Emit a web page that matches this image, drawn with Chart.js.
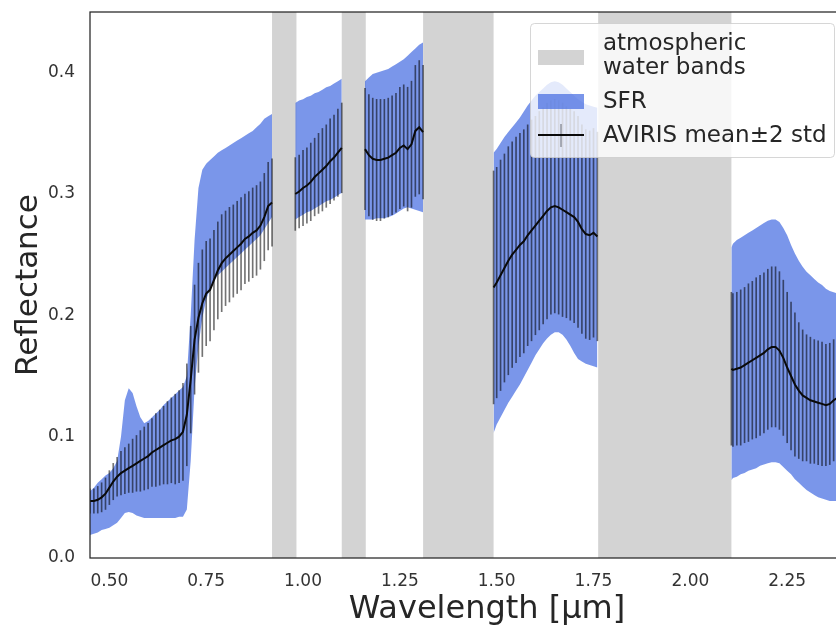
<!DOCTYPE html>
<html>
<head>
<meta charset="utf-8">
<title>SFR vs AVIRIS reflectance</title>
<script src="https://cdn.jsdelivr.net/npm/chart.js@4.4.1/dist/chart.umd.min.js"></script>
<style>
  html, body { margin: 0; padding: 0; background: #fff; overflow: hidden; }
  canvas { display: block; }
</style>
</head>
<body>
<canvas id="reflectanceChart" width="900" height="627"></canvas>
<script>
// wavelength grid in µm (null rows sit inside the water bands to break the curves)
const wavelength = [
  0.45, 0.46, 0.47, 0.48, 0.49, 0.50, 0.51, 0.52, 0.53, 0.54, 0.55, 0.56, 0.57, 0.58, 0.59, 0.60,
  0.61, 0.62, 0.63, 0.64, 0.65, 0.66, 0.67, 0.68, 0.69, 0.70, 0.71, 0.72, 0.73, 0.74, 0.75, 0.76,
  0.77, 0.78, 0.79, 0.80, 0.81, 0.82, 0.83, 0.84, 0.85, 0.86, 0.87, 0.88, 0.89, 0.90, 0.91, 0.92,
  0.95,
  0.98, 0.99, 1.00, 1.01, 1.02, 1.03, 1.04, 1.05, 1.06, 1.07, 1.08, 1.09, 1.10,
  1.13,
  1.16, 1.17, 1.18, 1.19, 1.20, 1.21, 1.22, 1.23, 1.24, 1.25, 1.26, 1.27, 1.28, 1.29, 1.30, 1.31,
  1.40,
  1.492, 1.50, 1.51, 1.52, 1.53, 1.54, 1.55, 1.56, 1.57, 1.58, 1.59, 1.60, 1.61, 1.62,
  1.63, 1.64, 1.65, 1.66, 1.67, 1.68, 1.69, 1.70, 1.71, 1.72, 1.73, 1.74, 1.75, 1.76,
  1.93,
  2.106, 2.11, 2.12, 2.13, 2.14, 2.15, 2.16, 2.17, 2.18, 2.19, 2.20, 2.21, 2.22, 2.23, 2.24, 2.25,
  2.26, 2.27, 2.28, 2.29, 2.30, 2.31, 2.32, 2.33, 2.34, 2.35, 2.36, 2.37, 2.38, 2.39, 2.40,
];

// AVIRIS mean reflectance
const aviriMean = [
  0.047, 0.047, 0.048, 0.050, 0.053, 0.058, 0.063, 0.067, 0.070, 0.072, 0.074, 0.076, 0.078, 0.080, 0.082, 0.084,
  0.087, 0.089, 0.091, 0.093, 0.095, 0.097, 0.098, 0.100, 0.104, 0.118, 0.147, 0.180, 0.198, 0.210, 0.218, 0.221,
  0.229, 0.237, 0.243, 0.247, 0.250, 0.253, 0.256, 0.259, 0.263, 0.265, 0.268, 0.270, 0.274, 0.281, 0.290, 0.293,
  null,
  0.300, 0.302, 0.305, 0.307, 0.310, 0.314, 0.317, 0.320, 0.323, 0.327, 0.330, 0.334, 0.338,
  null,
  0.337, 0.332, 0.329, 0.328, 0.328, 0.329, 0.330, 0.332, 0.334, 0.338, 0.340, 0.337, 0.341, 0.352, 0.355, 0.351,
  null,
  0.223, 0.227, 0.233, 0.239, 0.245, 0.250, 0.254, 0.258, 0.261, 0.266, 0.270, 0.274, 0.278, 0.282,
  0.286, 0.289, 0.290, 0.289, 0.287, 0.285, 0.283, 0.281, 0.277, 0.271, 0.267, 0.266, 0.268, 0.265,
  null,
  0.156, 0.155, 0.156, 0.157, 0.159, 0.161, 0.163, 0.165, 0.167, 0.169, 0.172, 0.174, 0.174, 0.171, 0.165, 0.157,
  0.150, 0.143, 0.138, 0.134, 0.132, 0.130, 0.129, 0.128, 0.127, 0.126, 0.127, 0.130, 0.132, 0.132, 0.131,
];

// AVIRIS 2 std (half length of each error bar)
const aviriTwoStd = [
  0.010, 0.010, 0.011, 0.012, 0.013, 0.014, 0.015, 0.016, 0.018, 0.019, 0.020, 0.022, 0.023, 0.025, 0.026, 0.027,
  0.028, 0.030, 0.031, 0.032, 0.034, 0.035, 0.037, 0.038, 0.040, 0.042, 0.044, 0.045, 0.045, 0.044, 0.043, 0.042,
  0.041, 0.040, 0.040, 0.039, 0.039, 0.038, 0.038, 0.038, 0.037, 0.037, 0.037, 0.037, 0.036, 0.036, 0.036, 0.036,
  null,
  0.030, 0.030, 0.031, 0.031, 0.032, 0.032, 0.033, 0.034, 0.034, 0.035, 0.035, 0.036, 0.037,
  null,
  0.050, 0.050, 0.050, 0.050, 0.050, 0.049, 0.049, 0.049, 0.049, 0.050, 0.050, 0.051, 0.052, 0.054, 0.055, 0.055,
  null,
  0.096, 0.095, 0.095, 0.094, 0.094, 0.093, 0.093, 0.092, 0.092, 0.091, 0.091, 0.090, 0.090, 0.089,
  0.089, 0.088, 0.088, 0.088, 0.088, 0.087, 0.087, 0.087, 0.087, 0.086, 0.086, 0.086, 0.086, 0.086,
  null,
  0.063, 0.063, 0.063, 0.064, 0.064, 0.065, 0.065, 0.066, 0.066, 0.066, 0.066, 0.066, 0.066, 0.065, 0.064, 0.062,
  0.061, 0.059, 0.056, 0.054, 0.052, 0.052, 0.051, 0.051, 0.051, 0.050, 0.050, 0.050, 0.050, 0.050, 0.050,
];

// SFR envelope, upper edge
const sfrHigh = [
  0.055, 0.058, 0.062, 0.065, 0.068, 0.070, 0.074, 0.080, 0.100, 0.130, 0.140, 0.136, 0.125, 0.116, 0.111, 0.113,
  0.116, 0.119, 0.122, 0.126, 0.129, 0.132, 0.135, 0.138, 0.141, 0.150, 0.200, 0.262, 0.305, 0.320, 0.325, 0.328,
  0.331, 0.334, 0.336, 0.338, 0.340, 0.342, 0.344, 0.346, 0.348, 0.350, 0.352, 0.355, 0.358, 0.362, 0.364, 0.366,
  null,
  0.375, 0.377, 0.378, 0.380, 0.381, 0.383, 0.384, 0.386, 0.388, 0.389, 0.391, 0.393, 0.395,
  null,
  0.393, 0.396, 0.399, 0.400, 0.401, 0.402, 0.403, 0.405, 0.407, 0.409, 0.411, 0.414, 0.417, 0.420, 0.423, 0.425,
  null,
  0.334, 0.337, 0.342, 0.347, 0.351, 0.355, 0.359, 0.363, 0.368, 0.373, 0.377, 0.381, 0.384, 0.387,
  0.390, 0.392, 0.393, 0.392, 0.390, 0.387, 0.384, 0.381, 0.378, 0.376, 0.374, 0.373, 0.372, 0.371,
  null,
  0.256, 0.259, 0.262, 0.264, 0.266, 0.268, 0.270, 0.272, 0.274, 0.276, 0.278, 0.279, 0.279, 0.277, 0.272, 0.266,
  0.258, 0.251, 0.245, 0.240, 0.236, 0.233, 0.230, 0.227, 0.225, 0.222, 0.220, 0.219, 0.218, 0.217, 0.216,
];

// SFR envelope, lower edge
const sfrLow = [
  0.019, 0.020, 0.021, 0.023, 0.024, 0.025, 0.027, 0.029, 0.033, 0.037, 0.038, 0.037, 0.035, 0.034, 0.033, 0.033,
  0.033, 0.033, 0.033, 0.033, 0.033, 0.033, 0.033, 0.034, 0.034, 0.040, 0.080, 0.140, 0.175, 0.198, 0.213, 0.222,
  0.228, 0.233, 0.236, 0.239, 0.242, 0.245, 0.248, 0.251, 0.254, 0.257, 0.260, 0.263, 0.266, 0.271, 0.276, 0.281,
  null,
  0.279, 0.281, 0.283, 0.285, 0.286, 0.288, 0.290, 0.292, 0.294, 0.295, 0.297, 0.299, 0.301,
  null,
  0.279, 0.279, 0.279, 0.280, 0.280, 0.280, 0.281, 0.282, 0.284, 0.286, 0.288, 0.289, 0.288, 0.287, 0.286, 0.285,
  null,
  0.103, 0.110, 0.116, 0.122, 0.128, 0.133, 0.138, 0.143, 0.149, 0.155, 0.161, 0.167, 0.172, 0.177,
  0.181, 0.184, 0.186, 0.186, 0.184, 0.180, 0.175, 0.169, 0.164, 0.162, 0.160, 0.159, 0.158, 0.157,
  null,
  0.064, 0.066, 0.067, 0.069, 0.070, 0.072, 0.073, 0.074, 0.076, 0.077, 0.078, 0.079, 0.079, 0.078, 0.075, 0.072,
  0.069, 0.065, 0.062, 0.059, 0.056, 0.054, 0.052, 0.050, 0.049, 0.048, 0.047, 0.047, 0.047, 0.047, 0.047,
];

// atmospheric water bands (µm)
const bandStart = [0.92, 1.10, 1.31, 1.762];
const bandEnd = [0.983, 1.162, 1.492, 2.106];

const xTickValues = [0.5, 0.75, 1.0, 1.25, 1.5, 1.75, 2.0, 2.25];
const yTickValues = [0.0, 0.1, 0.2, 0.3, 0.4];

const legendLabels = [["atmospheric", "water bands"], "SFR", "AVIRIS mean\u00b12 std"];

const BAND_COLOR = "#d3d3d3";
const SFR_COLOR = "rgba(65, 105, 225, 0.7)";
const INK = "#262626";

Chart.defaults.font.family = "'DejaVu Sans', sans-serif";
Chart.defaults.color = INK;

const waterBandsPlugin = {
  id: "waterBands",
  beforeDatasetsDraw(chart) {
    const { ctx, chartArea, scales } = chart;
    ctx.save();
    ctx.fillStyle = BAND_COLOR;
    bandStart.forEach((start, i) => {
      const x0 = scales.x.getPixelForValue(start);
      const x1 = scales.x.getPixelForValue(bandEnd[i]);
      ctx.fillRect(x0, chartArea.top, x1 - x0, chartArea.bottom - chartArea.top);
    });
    ctx.restore();
  },
};

const frameAndLegendPlugin = {
  id: "frameAndLegend",
  afterDraw(chart) {
    const { ctx, chartArea } = chart;
    ctx.save();

    // axes frame
    ctx.strokeStyle = INK;
    ctx.lineWidth = 1.25;
    ctx.strokeRect(chartArea.left, chartArea.top, chartArea.right - chartArea.left, chartArea.bottom - chartArea.top);

    // legend box
    ctx.beginPath();
    ctx.roundRect(530.5, 23.5, 304, 134, 4);
    ctx.fillStyle = "rgba(255, 255, 255, 0.8)";
    ctx.fill();
    ctx.strokeStyle = "rgba(204, 204, 204, 0.8)";
    ctx.lineWidth = 1;
    ctx.stroke();

    // handles
    ctx.fillStyle = BAND_COLOR;
    ctx.fillRect(538, 50, 46, 15);
    ctx.fillStyle = SFR_COLOR;
    ctx.fillRect(538, 94, 46, 15);
    ctx.strokeStyle = "rgba(0, 0, 0, 0.55)";
    ctx.lineWidth = 1;
    ctx.beginPath();
    ctx.moveTo(561, 124);
    ctx.lineTo(561, 147);
    ctx.stroke();
    ctx.strokeStyle = "#0a0a0a";
    ctx.lineWidth = 2;
    ctx.beginPath();
    ctx.moveTo(538, 135);
    ctx.lineTo(584, 135);
    ctx.stroke();

    // labels
    ctx.fillStyle = INK;
    ctx.font = "23px 'DejaVu Sans'";
    ctx.textBaseline = "middle";
    ctx.textAlign = "left";
    ctx.fillText(legendLabels[0][0], 603, 44);
    ctx.fillText(legendLabels[0][1], 603, 68);
    ctx.fillText(legendLabels[1], 603, 102);
    ctx.fillText(legendLabels[2], 603, 136);

    ctx.restore();
  },
};

function createReflectanceChart() {
  const canvas = document.getElementById("reflectanceChart");
  if (!canvas) {
    console.error("Canvas element not found");
    return;
  }

  const meanPoints = wavelength.map((w, i) => ({ x: w, y: aviriMean[i] }));
  const highPoints = wavelength.map((w, i) => ({ x: w, y: sfrHigh[i] }));
  const lowPoints = wavelength.map((w, i) => ({ x: w, y: sfrLow[i] }));
  const errorPoints = [];
  wavelength.forEach((w, i) => {
    if (aviriMean[i] === null) return;
    errorPoints.push({ x: w, y: [aviriMean[i] - aviriTwoStd[i], aviriMean[i] + aviriTwoStd[i]] });
  });

  const ctx = canvas.getContext("2d");
  new Chart(ctx, {
    type: "line",
    data: {
      datasets: [
        {
          label: "AVIRIS mean",
          data: meanPoints,
          borderColor: "#0a0a0a",
          borderWidth: 2,
          pointRadius: 0,
          tension: 0,
          fill: false,
          order: 0,
        },
        {
          type: "bar",
          label: "AVIRIS \u00b12 std",
          data: errorPoints,
          backgroundColor: "rgba(0, 0, 0, 0.55)",
          borderWidth: 0,
          barThickness: 1,
          grouped: false,
          order: 1,
        },
        {
          label: "SFR",
          data: highPoints,
          borderColor: "rgba(0, 0, 0, 0)",
          borderWidth: 0,
          backgroundColor: SFR_COLOR,
          pointRadius: 0,
          fill: "+1",
          order: 2,
        },
        {
          label: "SFR low",
          data: lowPoints,
          borderColor: "rgba(0, 0, 0, 0)",
          borderWidth: 0,
          pointRadius: 0,
          fill: false,
          order: 3,
        },
      ],
    },
    options: {
      responsive: false,
      animation: false,
      layout: { padding: { top: 12, right: 16, left: 0, bottom: 0 } },
      plugins: {
        legend: { display: false },
        tooltip: { enabled: false },
      },
      scales: {
        x: {
          type: "linear",
          min: 0.45,
          max: 2.5,
          offset: false,
          afterBuildTicks: (scale) => {
            scale.ticks = xTickValues.map((v) => ({ value: v }));
          },
          afterFit: (scale) => {
            scale.height = 69;
            scale.paddingLeft = 0;
            scale.paddingRight = 0;
          },
          grid: { display: false, drawTicks: false },
          border: { display: false },
          ticks: {
            autoSkip: false,
            maxRotation: 0,
            padding: 13,
            color: "#333",
            font: { size: 17 },
            callback: (value) => Number(value).toFixed(2),
          },
          title: {
            display: true,
            text: "Wavelength [\u00b5m]",
            color: INK,
            font: { size: 32, lineHeight: 1 },
            padding: { top: 0, bottom: 1 },
          },
        },
        y: {
          type: "linear",
          min: 0,
          max: 0.45,
          afterBuildTicks: (scale) => {
            scale.ticks = yTickValues.map((v) => ({ value: v }));
          },
          afterFit: (scale) => {
            scale.width = 90;
            scale.paddingTop = 0;
            scale.paddingBottom = 0;
          },
          grid: { display: false, drawTicks: false },
          border: { display: false },
          ticks: {
            padding: 15,
            color: "#333",
            font: { size: 17 },
            callback: (value) => Number(value).toFixed(1),
          },
          title: {
            display: true,
            text: "Reflectance",
            color: INK,
            font: { size: 31, lineHeight: 1 },
            padding: { top: 13, bottom: 0 },
          },
        },
      },
    },
    plugins: [waterBandsPlugin, frameAndLegendPlugin],
  });
}

document.addEventListener("DOMContentLoaded", () => {
  createReflectanceChart();
});
</script>
</body>
</html>
